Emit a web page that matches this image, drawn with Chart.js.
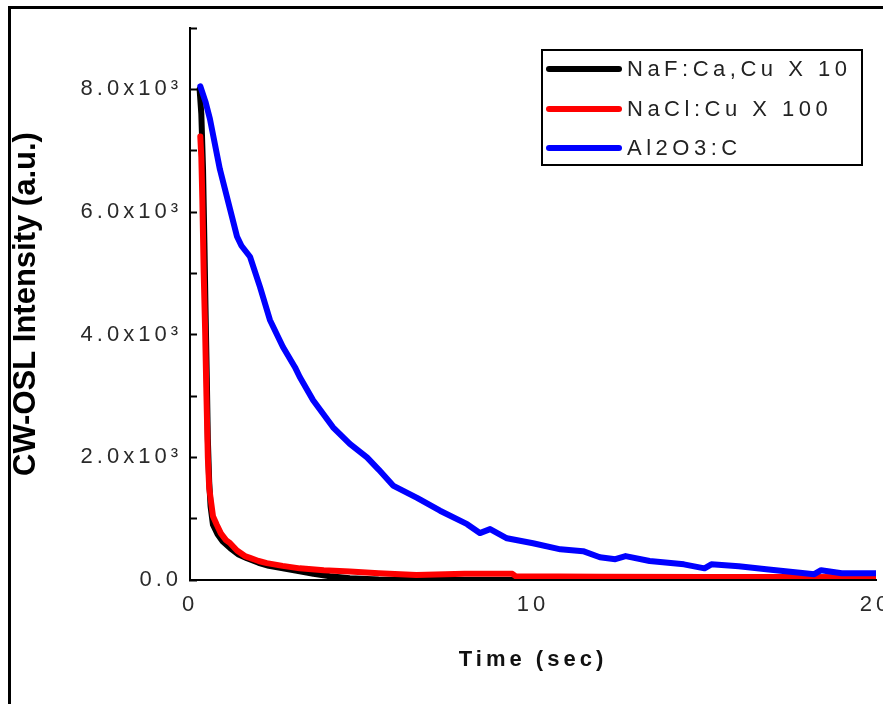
<!DOCTYPE html>
<html>
<head>
<meta charset="utf-8">
<title>CW-OSL decay curves</title>
<script src="https://cdn.jsdelivr.net/npm/chart.js@4/dist/chart.umd.min.js"></script>
<style>
  html, body { margin: 0; padding: 0; background: #fff; }
  canvas { display: block; }
</style>
</head>
<body>
<canvas id="chart" width="883" height="704"></canvas>
<script>
// --- data ---------------------------------------------------------------
const seriesLabels = ['NaF:Ca,Cu X 10', 'NaCl:Cu X 100', 'Al2O3:C'];
const seriesColors = ['#000000', '#ff0000', '#0000ff'];

// NaF:Ca,Cu (x10)
const nafTime = [0.28, 0.33, 0.38, 0.42, 0.45, 0.49, 0.52, 0.56, 0.6, 0.67, 0.8, 0.95, 1.17, 1.4, 1.66, 2.0, 2.3, 2.71, 3.2, 3.6, 4.08, 4.66, 5.5, 6.5, 10, 15, 20];
const nafIntensity = [8000, 7600, 6700, 5500, 4500, 3300, 2300, 1600, 1200, 900, 750, 630, 520, 420, 355, 280, 230, 190, 140, 100, 60, 30, 10, 0, 0, 0, 0];

// NaCl:Cu (x100)
const naclTime = [0.3, 0.33, 0.36, 0.4, 0.44, 0.48, 0.52, 0.56, 0.62, 0.67, 0.78, 0.9, 1.05, 1.17, 1.37, 1.6, 1.75, 2.0, 2.24, 2.7, 3.2, 3.9, 4.66, 5.5, 6.6, 8.0, 9.4, 9.5, 12, 15, 18, 20];
const naclIntensity = [7230, 6900, 6200, 5000, 4100, 3000, 2000, 1500, 1250, 1040, 900, 760, 650, 600, 480, 390, 360, 310, 275, 230, 190, 160, 140, 110, 80, 100, 100, 60, 55, 50, 48, 45];

// Al2O3:C
const aloTime = [0.3, 0.45, 0.58, 0.87, 1.17, 1.37, 1.5, 1.75, 2.04, 2.33, 2.71, 3.06, 3.2, 3.59, 4.17, 4.66, 5.16, 5.5, 5.92, 6.62, 7.29, 8.08, 8.45, 8.75, 9.24, 10.0, 10.8, 11.46, 11.95, 12.4, 12.7, 13.4, 14.4, 15.0, 15.2, 16.0, 16.8, 18.2, 18.4, 19.0, 20.0];
const aloIntensity = [8050, 7800, 7520, 6700, 6040, 5600, 5450, 5270, 4780, 4240, 3800, 3470, 3310, 2930, 2490, 2220, 2000, 1800, 1540, 1340, 1130, 910, 765, 830, 680, 600, 500, 470, 370, 340, 390, 310, 255, 190, 255, 225, 175, 95, 160, 110, 110];

// axis ticks
const yMajorTicks = [0, 2000, 4000, 6000, 8000];
const yTickLabels = ['0.0', '2.0x10\u00b3', '4.0x10\u00b3', '6.0x10\u00b3', '8.0x10\u00b3'];

const FONT = '"Liberation Sans", Arial, sans-serif';
Chart.defaults.font.family = FONT;

// zip two arrays into {x, y} points
function toPoints(xs, ys) {
  return xs.map((x, i) => ({ x, y: ys[i] }));
}

// letter spacing: y title plain, everything drawn after the curves spaced out
const spacingPlugin = {
  id: 'spacing',
  beforeDraw(chart) { chart.ctx.letterSpacing = '0px'; },
  afterDatasetsDraw(chart) { chart.ctx.letterSpacing = '4px'; }
};

// legend box inside the plot + outer frame
const boxLegend = {
  id: 'boxLegend',
  afterDraw(chart) {
    const ctx = chart.ctx;
    const rows = [69, 109, 148];
    ctx.save();
    ctx.letterSpacing = '0px';
    // outer frame (right/bottom edges fall outside the picture)
    ctx.strokeStyle = '#000';
    ctx.lineWidth = 3;
    ctx.strokeRect(9.5, 7.5, 1000, 1000);
    // legend box
    ctx.lineWidth = 2;
    ctx.strokeRect(542, 50, 320, 115);
    ctx.lineCap = 'round';
    ctx.font = '22px ' + FONT;
    ctx.textBaseline = 'middle';
    ctx.letterSpacing = '4.5px';
    chart.data.datasets.forEach((ds, i) => {
      ctx.strokeStyle = ds.borderColor;
      ctx.lineWidth = 6;
      ctx.beginPath();
      ctx.moveTo(549, rows[i]);
      ctx.lineTo(619, rows[i]);
      ctx.stroke();
      ctx.fillStyle = '#222';
      ctx.fillText(ds.label, 627, rows[i] + 1);
    });
    ctx.restore();
  }
};

new Chart(document.getElementById('chart'), {
  type: 'line',
  data: {
    datasets: [
      { label: seriesLabels[0], data: toPoints(nafTime, nafIntensity), borderColor: seriesColors[0], order: 3 },
      { label: seriesLabels[1], data: toPoints(naclTime, naclIntensity), borderColor: seriesColors[1], order: 2 },
      { label: seriesLabels[2], data: toPoints(aloTime, aloIntensity), borderColor: seriesColors[2], order: 1 }
    ]
  },
  options: {
    responsive: false,
    animation: false,
    devicePixelRatio: 1,
    layout: { padding: { left: 0, top: 28, right: 7, bottom: 0 } },
    elements: {
      line: { borderWidth: 6, tension: 0, borderJoinStyle: 'round', borderCapStyle: 'round', fill: false },
      point: { radius: 0 }
    },
    plugins: { legend: { display: false }, tooltip: { enabled: false } },
    scales: {
      x: {
        type: 'linear',
        min: 0,
        max: 20,
        // grid layer holds the title: draw it (and the axis line) after the curves
        grid: { display: false, drawTicks: false, z: 1 },
        border: { display: true, color: '#000', width: 2, z: 1 },
        ticks: { stepSize: 10, maxRotation: 0, autoSkip: false, padding: 12, z: 1, color: '#2a2a2a', font: { size: 22 } },
        title: { display: true, text: 'Time (sec)', color: '#111', font: { size: 22, weight: 'bold' }, padding: { top: 0, bottom: 31 } },
        afterFit(scale) {
          scale.height = 124;
          scale.paddingLeft = 0;
          scale.paddingRight = 0;
        }
      },
      y: {
        type: 'linear',
        min: 0,
        max: 9000,
        grid: { drawOnChartArea: false, drawTicks: true, tickLength: -7, tickWidth: 2, tickColor: '#000' },
        border: { display: true, color: '#000', width: 2 },
        ticks: {
          stepSize: 1000,
          padding: 15,
          z: 1,
          autoSkip: false,
          color: '#2a2a2a',
          font: { size: 22 },
          callback: (v) => {
            const k = yMajorTicks.indexOf(Math.round(v));
            return k >= 0 ? yTickLabels[k] : '';
          }
        },
        title: { display: true, text: 'CW-OSL Intensity (a.u.)', color: '#000', font: { size: 31, weight: 'bold' }, padding: { top: 8, bottom: 0 } },
        afterFit(scale) {
          scale.width = 190;
          scale.paddingTop = 0;
          scale.paddingBottom = 0;
        }
      }
    }
  },
  plugins: [spacingPlugin, boxLegend]
});
</script>
</body>
</html>
